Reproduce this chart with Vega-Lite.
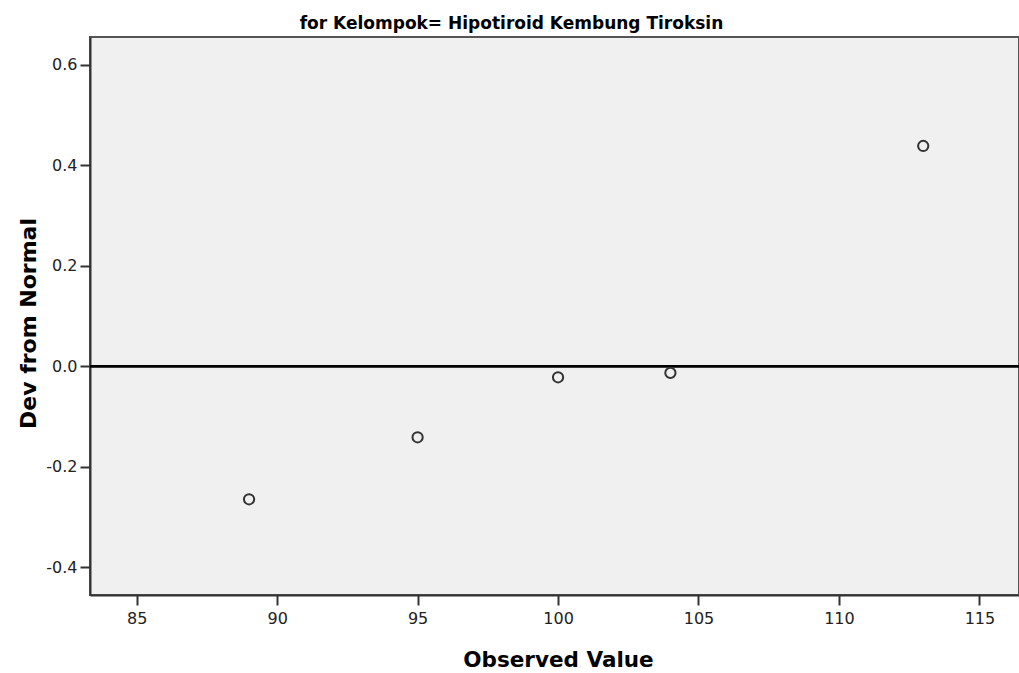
{
  "$schema": "https://vega.github.io/schema/vega-lite/v6.json",
  "width": 929,
  "height": 558,
  "autosize": {"type": "none"},
  "padding": {"left": 90, "top": 37, "right": 0, "bottom": 78},
  "background": "white",
  "title": {
    "text": "for Kelompok= Hipotiroid Kembung Tiroksin",
    "font": "DejaVu Sans",
    "fontSize": 17,
    "fontWeight": "bold",
    "color": "#000000",
    "anchor": "middle",
    "baseline": "alphabetic",
    "offset": 8,
    "dx": -43,
    "dy": 17
  },
  "config": {
    "view": {"fill": "#f0f0f0", "stroke": "#555555", "strokeWidth": 2},
    "axis": {
      "labelFont": "DejaVu Sans",
      "labelFontSize": 16,
      "labelColor": "#222222",
      "titleFont": "DejaVu Sans",
      "titleFontSize": 21,
      "titleFontWeight": "bold",
      "titleColor": "#000000",
      "domainColor": "#333333",
      "domainWidth": 2,
      "tickColor": "#333333",
      "tickWidth": 2,
      "tickSize": 10,
      "grid": false
    }
  },
  "data": {
    "values": [
      {"observed": 89, "dev": -0.2646},
      {"observed": 95, "dev": -0.1413},
      {"observed": 100, "dev": -0.0219},
      {"observed": 104, "dev": -0.0133},
      {"observed": 113, "dev": 0.4383}
    ]
  },
  "layer": [
    {
      "mark": {"type": "rule", "color": "#000000", "strokeWidth": 1.8},
      "encoding": {"y": {"datum": 0, "type": "quantitative"}}
    },
    {
      "mark": {"type": "point", "shape": "circle", "filled": false, "stroke": "#333333", "strokeWidth": 2, "size": 105, "opacity": 1},
      "encoding": {
        "x": {
          "field": "observed",
          "type": "quantitative",
          "scale": {"domain": [83.3375, 116.41], "nice": false, "zero": false},
          "axis": {
            "title": "Observed Value",
            "values": [85, 90, 95, 100, 105, 110, 115],
            "labelPadding": 5,
            "titleFontSize": 21.5,
            "titleBaseline": "alphabetic",
            "titleY": 71,
            "titleX": 468
          }
        },
        "y": {
          "field": "dev",
          "type": "quantitative",
          "scale": {"domain": [-0.4551, 0.6551], "nice": false, "zero": false},
          "axis": {
            "title": "Dev from Normal",
            "values": [-0.4, -0.2, 0, 0.2, 0.4, 0.6],
            "labelExpr": "replace(format(datum.value, '.1f'), '\u2212', '-')",
            "labelPadding": 3,
            "titleFontSize": 22,
            "titleBaseline": "alphabetic",
            "titleAngle": -90,
            "titleAlign": "center",
            "titleX": -55,
            "titleY": 286
          }
        }
      }
    }
  ]
}
